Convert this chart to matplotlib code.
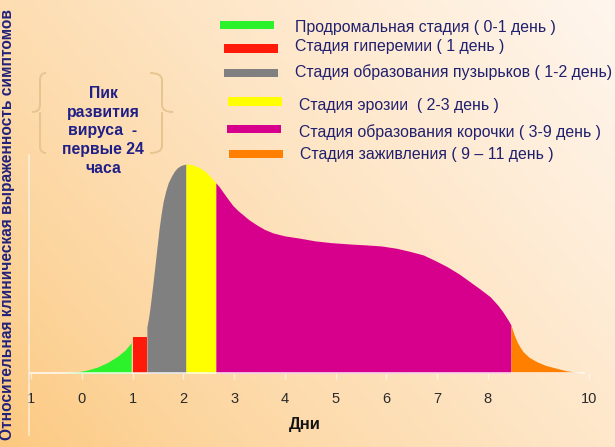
import numpy as np
import matplotlib
matplotlib.use("Agg")
import matplotlib.pyplot as plt
from matplotlib.path import Path
from matplotlib.patches import PathPatch, Rectangle

# ---------------- data ----------------
days = np.array([-0.45, -0.3, -0.1, 0.1, 0.3, 0.5, 0.7, 0.85, 0.97,
                 1.0, 1.275,
                 1.28, 1.31, 1.34, 1.37, 1.40, 1.43, 1.46, 1.49, 1.52, 1.56,
                 1.60, 1.65, 1.70, 1.76, 1.82, 1.88, 1.95, 2.05,
                 2.15, 2.25, 2.35, 2.45, 2.55, 2.64,
                 2.71, 2.78, 2.88, 2.98, 3.08, 3.18, 3.30, 3.45, 3.60, 3.77,
                 4.00, 4.30, 4.60, 4.90, 5.30, 5.60, 5.90, 6.20, 6.45, 6.73,
                 6.95, 7.20, 7.45, 7.65, 7.85, 8.05, 8.20, 8.30, 8.40, 8.46,
                 8.52, 8.58, 8.64, 8.70, 8.82, 8.97, 9.15, 9.37, 9.55, 9.68, 9.88])
intensity = np.array([0.0, 0.1, 0.5, 1.4, 2.8, 5.0, 8.0, 11.0, 14.5,
                      17.0, 17.0,
                      22.0, 26.0, 31.0, 37.0, 43.0, 49.5, 56.0, 62.5, 69.0, 76.0,
                      82.0, 87.0, 91.0, 94.0, 96.5, 98.2, 99.3, 100.0,
                      99.8, 99.0, 97.8, 96.0, 93.5, 91.0,
                      89.0, 86.6, 83.2, 80.0, 77.6, 75.6, 73.2, 70.8, 68.7, 67.0,
                      65.6, 64.5, 63.2, 62.4, 61.7, 61.3, 60.8, 59.7, 58.3, 56.5,
                      54.0, 50.9, 47.2, 43.7, 40.2, 36.5, 32.5, 29.3, 25.5, 23.0,
                      18.5, 15.0, 12.4, 10.2, 7.5, 5.4, 3.6, 2.2, 1.1, 0.6, 0.0])

stage_start = [-0.45, 1.0, 1.28, 2.05, 2.64, 8.46]
stage_end = [0.97, 1.275, 2.05, 2.64, 8.46, 9.88]
stage_colors = ["#2BF22B", "#FF1A0A", "#808080", "#FFFF00", "#D6008C", "#FF8000"]
stage_labels = ["Продромальная стадия ( 0-1 день )",
                "Стадия гиперемии ( 1 день )",
                "Стадия образования пузырьков ( 1-2 день)",
                "Стадия эрозии  ( 2-3 день )",
                "Стадия образования корочки ( 3-9 день )",
                "Стадия заживления ( 9 – 11 день )"]

tick_positions = [-1, 0, 1, 2, 3, 4, 5, 6, 7, 8, 10]
tick_labels = ["1", "0", "1", "2", "3", "4", "5", "6", "7", "8", "10"]

x_label = "Дни"
y_label = "Относительная клиническая выраженность симптомов"
note_text = "Пик\nразвития\nвируса  -\nпервые 24\nчаса"

# ---------------- figure ----------------
W, H = 615, 447
plt.rcParams['font.family'] = ['Liberation Sans', 'DejaVu Sans']
fig = plt.figure(figsize=(W / 100, H / 100), dpi=100)
ax = fig.add_axes([0, 0, 1, 1])

PX, X0, Y0, PY = 50.7, 82.0, 373.0, 2.09
ax.set_xlim(-X0 / PX, (W - X0) / PX)
ax.set_ylim(-(H - Y0) / PY, Y0 / PY)


def fx(px):
    return px / W


def fy(py):
    return 1 - py / H


# background gradient
c0 = np.array([252, 200, 126]) / 255.0   # bottom-left
c1 = np.array([255, 246, 238]) / 255.0   # top-right
gx, gy = np.meshgrid(np.linspace(0, 1, 200), np.linspace(1, 0, 150))
t = np.clip(0.62 * gx + 0.38 * gy, 0, 1) ** 0.8
img = c0[None, None, :] * (1 - t[..., None]) + c1[None, None, :] * t[..., None]
ax.imshow(img, extent=[0, 1, 0, 1], transform=ax.transAxes, aspect='auto',
          zorder=-10, interpolation='bilinear')

# stage fills
for s, e, col in zip(stage_start, stage_end, stage_colors):
    m = (days >= s - 1e-9) & (days <= e + 1e-9)
    ax.fill_between(days[m], 0, intensity[m], color=col, lw=0, zorder=2)

# axes styling
for k in ['top', 'right']:
    ax.spines[k].set_visible(False)
ax.spines['bottom'].set_position(('data', 0))
ax.spines['bottom'].set_bounds(-1.02, 9.9)
ax.spines['bottom'].set_color((1, 1, 1, 0.85))
ax.spines['bottom'].set_linewidth(1.2)
ax.spines['bottom'].set_zorder(3)
ax.spines['left'].set_position(('data', (29 - X0) / PX))
ax.spines['left'].set_bounds((Y0 - 435) / PY, (Y0 - 155) / PY)
ax.spines['left'].set_color((1, 1, 1, 0.6))
ax.spines['left'].set_linewidth(1.2)
ax.set_yticks([])
ax.set_xticks(tick_positions)
ax.set_xticklabels(tick_labels)
ax.tick_params(axis='x', direction='out', length=4, width=1,
               color=(1, 1, 1, 0.6), pad=9.5, labelsize=10.5,
               labelcolor='#2a2a2a')

fig.text(fx(305), fy(424), x_label, fontsize=12, fontweight='bold',
         color='#141414', ha='center', va='center')
fig.text(fx(8), fy(224), y_label, fontsize=11.2, fontweight='bold',
         color='#22227a', ha='center', va='center', rotation=90)

# legend
bars = [(220, 274, 21, 29), (224, 278, 44, 53), (224, 278, 69, 77),
        (228, 282, 97, 106), (227, 281, 125, 133), (229, 283, 150, 158)]
text_pos = [(295, 32), (295, 51), (295, 76.5), (299, 110), (299, 136.5), (300, 159)]
for (x0, x1, y0, y1), (tx, ty), col, lab in zip(bars, text_pos, stage_colors, stage_labels):
    fig.add_artist(Rectangle((fx(x0), fy(y1)), (x1 - x0) / W, (y1 - y0) / H,
                             transform=fig.transFigure, color=col, lw=0))
    fig.text(fx(tx), fy(ty), lab, fontsize=11.4, color='#20206e',
             ha='left', va='baseline')

# peak note
fig.text(fx(103), fy(131), note_text, fontsize=11.3, fontweight='bold',
         color='#1f1f86', ha='center', va='center', linespacing=1.3)


def brace(xe, xa, xt, ytop, ymid, ybot):
    r = 7
    verts = [(xe, ytop), (xa, ytop), (xa, ytop + r), (xa, ymid - r),
             (xa, ymid), (xt, ymid), (xa, ymid), (xa, ymid + r),
             (xa, ybot - r), (xa, ybot), (xe, ybot)]
    codes = [Path.MOVETO, Path.CURVE3, Path.CURVE3, Path.LINETO,
             Path.CURVE3, Path.CURVE3, Path.MOVETO, Path.CURVE3,
             Path.LINETO, Path.CURVE3, Path.CURVE3]
    verts = [(fx(a), fy(b)) for a, b in verts]
    fig.add_artist(PathPatch(Path(verts, codes), transform=fig.transFigure,
                             fill=False, edgecolor='#e6c590', lw=1.4))


brace(46, 40, 32, 73, 112, 153)
brace(150, 162, 173, 73, 112, 153)

fig.savefig("out.png", dpi=100)
